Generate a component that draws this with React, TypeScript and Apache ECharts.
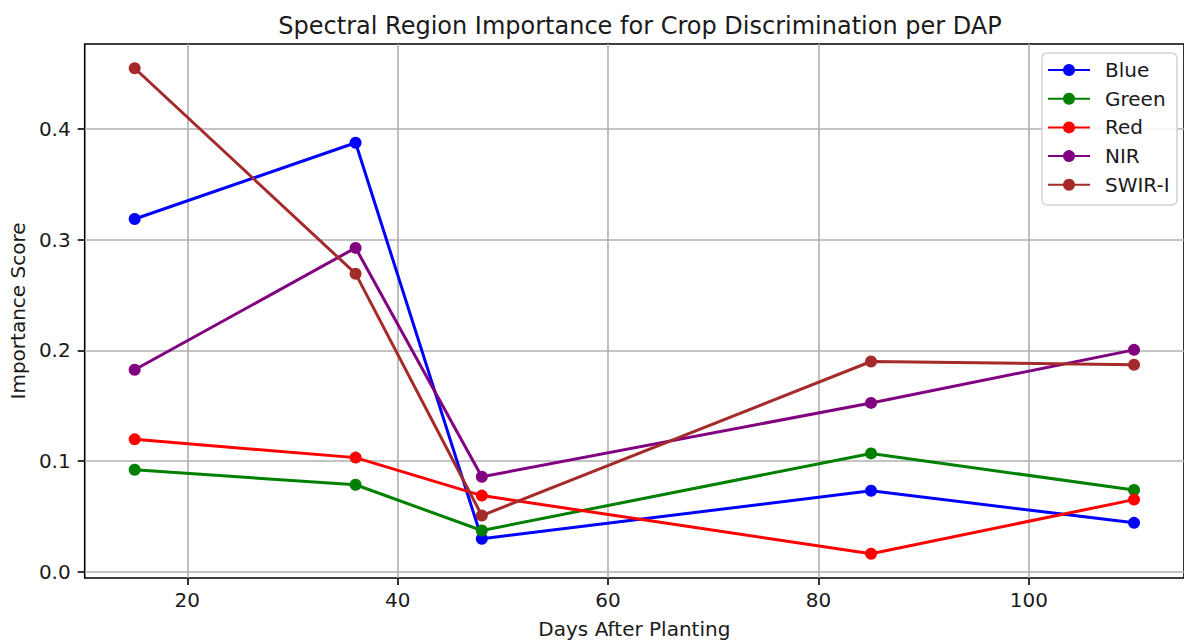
import React, { useEffect, useRef } from "react";
import * as echarts from "echarts";

const dap = [15, 36, 48, 85, 110];
const blueVals = [0.3187, 0.3875, 0.0299, 0.0733, 0.0443];
const greenVals = [0.0922, 0.0787, 0.0374, 0.107, 0.0739];
const redVals = [0.1197, 0.1032, 0.0689, 0.0164, 0.0653];
const nirVals = [0.1825, 0.2926, 0.0859, 0.1526, 0.2005];
const swirVals = [0.4548, 0.2693, 0.0509, 0.19, 0.187];
const seriesNames = ["Blue", "Green", "Red", "NIR", "SWIR-I"];
const seriesColors = ["#0000ff", "#008000", "#ff0000", "#800080", "#a52a2a"];
const xTicks = [20, 40, 60, 80, 100];
const yTicks = [0, 0.1, 0.2, 0.3, 0.4];

const FONT = "DejaVu Sans";
const TEXT = "#1a1a1a";

export default function App() {
  const ref = useRef<HTMLDivElement>(null);
  useEffect(() => {
    document.body.style.margin = "0";
    if (!ref.current) return;
    const chart = echarts.init(ref.current, undefined, { renderer: "svg" });
    const allVals = [blueVals, greenVals, redVals, nirVals, swirVals];
    const series = allVals.map((vals, i) => ({
      name: seriesNames[i],
      type: "line",
      data: dap.map((x, j) => [x, vals[j]]),
      symbol: "circle",
      symbolSize: 12,
      showSymbol: true,
      color: seriesColors[i],
      lineStyle: { width: 3, color: seriesColors[i] },
      itemStyle: { color: seriesColors[i] },
      z: 2,
    }));
    chart.setOption({
      animation: false,
      textStyle: { fontFamily: FONT, color: TEXT },
      title: {
        text: "Spectral Region Importance for Crop Discrimination per DAP",
        left: 635,
        textAlign: "center",
        top: 9,
        textStyle: { fontFamily: FONT, fontSize: 24, fontWeight: "normal", color: TEXT },
      },
      grid: {
        left: 83,
        top: 44,
        width: 1105,
        height: 537.5,
        show: true,
        borderColor: "#000",
        borderWidth: 1.6,
        backgroundColor: "transparent",
        containLabel: false,
      },
      legend: {
        orient: "vertical",
        left: 1047,
        top: 60,
        itemWidth: 42,
        itemHeight: 15,
        itemGap: 8.7,
        padding: 0,
        data: seriesNames,
        textStyle: { fontFamily: FONT, fontSize: 20, color: TEXT, padding: [0, 0, 0, 10] },
        z: 5,
      },
      graphic: [
        {
          type: "rect",
          z: 4,
          shape: { x: 1042, y: 53, width: 135, height: 152, r: 5 },
          style: { fill: "rgba(255,255,255,0.85)", stroke: "#d4d4d4", lineWidth: 1.5 },
        },
      ],
      xAxis: {
        type: "value",
        min: 10.25,
        max: 114.75,
        name: "Days After Planting",
        nameLocation: "middle",
        nameGap: 41,
        nameTextStyle: { fontFamily: FONT, fontSize: 20, color: TEXT },
        axisLine: { show: false, onZero: false },
        axisTick: {
          show: true,
          customValues: xTicks,
          length: 7,
          inside: false,
          lineStyle: { color: "#000", width: 1.6 },
        },
        axisLabel: {
          customValues: xTicks,
          margin: 12,
          fontFamily: FONT,
          fontSize: 20,
          color: TEXT,
        },
        splitLine: { show: true, lineStyle: { color: "#b0b0b0", width: 1.6 } },
      },
      yAxis: {
        type: "value",
        min: -0.0055,
        max: 0.4767,
        name: "Importance Score",
        nameLocation: "middle",
        nameGap: 55,
        nameTextStyle: { fontFamily: FONT, fontSize: 20, color: TEXT },
        axisLine: { show: false, onZero: false },
        axisTick: {
          show: true,
          customValues: yTicks,
          length: 7,
          inside: false,
          lineStyle: { color: "#000", width: 1.6 },
        },
        axisLabel: {
          customValues: yTicks,
          margin: 14,
          fontFamily: FONT,
          fontSize: 20,
          color: TEXT,
          formatter: (v: number) => v.toFixed(1),
        },
        splitLine: { show: true, lineStyle: { color: "#b0b0b0", width: 1.6 } },
      },
      series,
    });
    return () => chart.dispose();
  }, []);
  return <div ref={ref} style={{ width: 1184, height: 644 }} />;
}
